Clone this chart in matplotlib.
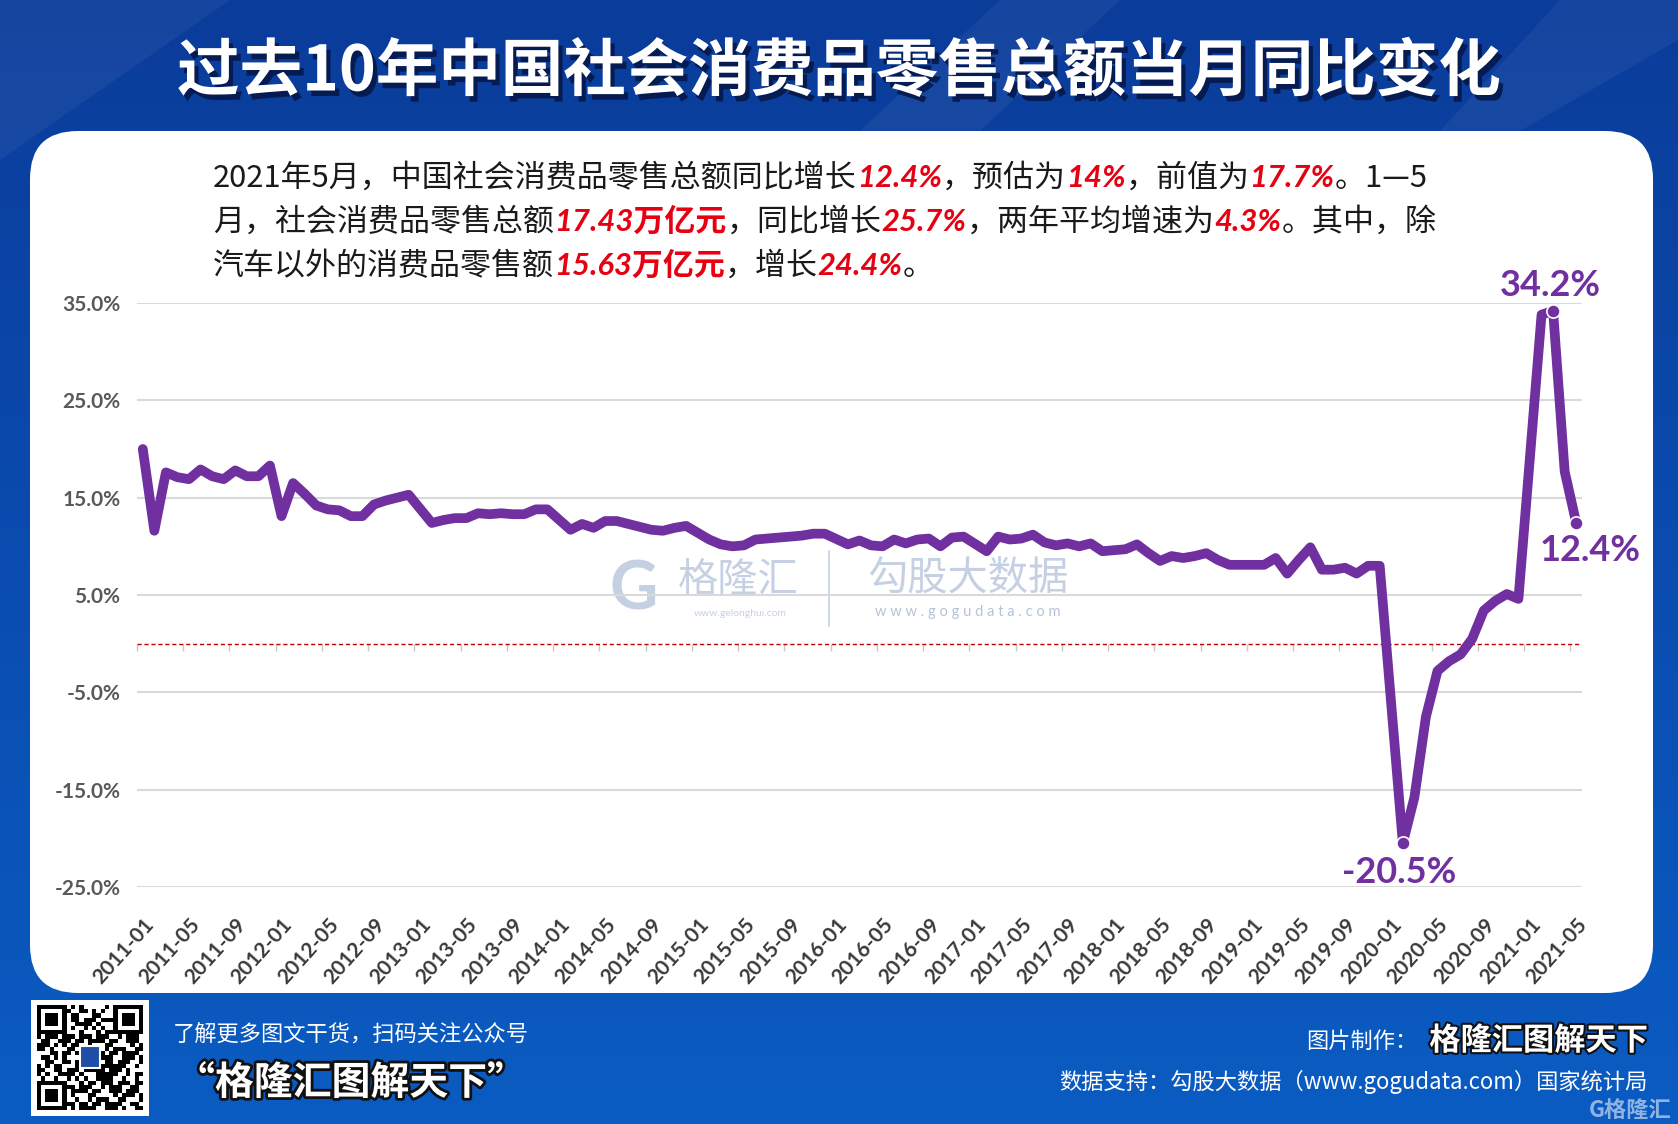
import numpy as np
import pandas as pd
import matplotlib
matplotlib.use("Agg")
import matplotlib.pyplot as plt
import matplotlib.patheffects as pe
from matplotlib.patches import FancyBboxPatch, Polygon, Rectangle

W, H, DPI = 1678, 1124, 100
CJK = ["Noto Sans CJK SC", "DejaVu Sans"]
NUM = ["Lato", "Noto Sans CJK SC", "DejaVu Sans"]
plt.rcParams["font.family"] = CJK

# monthly YoY growth of retail sales (%), 2011-01 .. 2021-05; None = no January print
y2011 = [20.0, 11.6, 17.6, 17.1, 16.9, 17.9, 17.2, 16.9, 17.8, 17.2, 17.2, 18.3]
y2012 = [13.1, 16.5, 15.4, 14.2, 13.8, 13.7, 13.1, 13.1, 14.3, 14.7, 15.0, 15.3]
y2013 = [None, 12.4, 12.7, 12.9, 12.9, 13.4, 13.3, 13.4, 13.3, 13.3, 13.8, 13.8]
y2014 = [None, 11.7, 12.3, 11.9, 12.6, 12.6, 12.3, 12.0, 11.7, 11.6, 11.9, 12.1]
y2015 = [None, 10.7, 10.2, 10.0, 10.1, 10.7, 10.8, 10.9, 11.0, 11.1, 11.3, 11.3]
y2016 = [None, 10.2, 10.6, 10.1, 10.0, 10.7, 10.3, 10.7, 10.8, 10.0, 10.9, 11.0]
y2017 = [None, 9.5, 11.0, 10.7, 10.8, 11.2, 10.4, 10.1, 10.3, 10.0, 10.3, 9.5]
y2018 = [None, 9.7, 10.2, 9.3, 8.5, 9.0, 8.8, 9.0, 9.3, 8.6, 8.1, 8.1]
y2019 = [None, 8.1, 8.8, 7.2, 8.6, 9.9, 7.6, 7.6, 7.8, 7.2, 8.0, 8.0]
y2020 = [None, -20.5, -15.8, -7.5, -2.8, -1.8, -1.1, 0.5, 3.4, 4.4, 5.1, 4.6]
y2021 = [None, 33.8, 34.2, 17.7, 12.4]

growth = (y2011 + y2012 + y2013 + y2014 + y2015 + y2016 + y2017
          + y2018 + y2019 + y2020 + y2021)
months = pd.date_range("2011-01-01", periods=len(growth), freq="MS")
month_labels = [d.strftime("%Y-%m") for d in months]

title = "过去10年中国社会消费品零售总额当月同比变化"
summary = [
    [("2021年5月，中国社会消费品零售总额同比增长", False), ("12.4%", True),
     ("，预估为", False), ("14%", True), ("，前值为", False), ("17.7%", True),
     ("。1—5", False)],
    [("月，社会消费品零售总额", False), ("17.43万亿元", True), ("，同比增长", False),
     ("25.7%", True), ("，两年平均增速为", False), ("4.3%", True), ("。其中，除", False)],
    [("汽车以外的消费品零售额", False), ("15.63万亿元", True), ("，增长", False),
     ("24.4%", True), ("。", False)],
]

PURPLE = "#7030a0"

fig = plt.figure(figsize=(W / DPI, H / DPI), dpi=DPI)

# ---- background, panel and decorations in pixel coordinates
bg = fig.add_axes([0, 0, 1, 1], zorder=-1)
bg.set_xlim(0, W)
bg.set_ylim(H, 0)
bg.axis("off")
grad = np.linspace(0, 1, 256)[:, None]
cmap = matplotlib.colors.LinearSegmentedColormap.from_list(
    "bgblue", ["#0a3c9a", "#0a4cb0", "#0a5cc2"])
bg.imshow(grad, extent=(0, W, H, 0), aspect="auto", cmap=cmap, zorder=0)
for pts in ([(0, 0), (230, 0), (0, 160)],
            [(1000, 0), (1120, 0), (980, 131), (860, 131)],
            [(1560, 0), (1678, 0), (1678, 40), (1520, 131), (1440, 131)]):
    bg.add_patch(Polygon(pts, closed=True, facecolor="white", alpha=0.05,
                         edgecolor="none"))
bg.add_patch(FancyBboxPatch((30, 131), 1623, 862,
                            boxstyle="round,pad=0,rounding_size=48",
                            facecolor="white", edgecolor="none"))

# watermark
wm = "#c5d1e3"
bg.text(634, 590, "G", fontsize=48, fontweight="bold", color=wm,
        ha="center", va="center", family=NUM)
bg.text(738, 580, "格隆汇", fontsize=29, color=wm, ha="center", va="center")
bg.text(740, 613, "www.gelonghui.com", fontsize=7.5, color=wm,
        ha="center", va="center", family=NUM)
bg.plot([829, 829], [551, 626], color=wm, lw=1.2)
bg.text(968, 578, "勾股大数据", fontsize=29, color=wm, ha="center", va="center")
bg.text(968, 612, "w w w . g o g u d a t a . c o m", fontsize=10.5,
        color="#b5c3d8", ha="center", va="center", family=NUM)

# QR-style badge
bg.add_patch(Rectangle((31, 1000), 118, 116, facecolor="white",
                       edgecolor="none", zorder=1))
bits = np.unpackbits(np.frombuffer(("格隆汇图解天下www.gogudata.com" * 8)
                                   .encode("utf-8"), dtype=np.uint8))
qr = bits[:25 * 25].reshape(25, 25).astype(float)
for r0, c0 in ((0, 0), (0, 18), (18, 0)):
    qr[r0:r0 + 7, c0:c0 + 7] = 1
    qr[r0 + 1:r0 + 6, c0 + 1:c0 + 6] = 0
    qr[r0 + 2:r0 + 5, c0 + 2:c0 + 5] = 1
bg.imshow(1 - qr, extent=(37, 143, 1110, 1005), cmap="gray",
          interpolation="nearest", aspect="auto", vmin=0, vmax=1, zorder=2)
bg.add_patch(Rectangle((80, 1046), 20, 22, facecolor="#1f4fa8",
                       edgecolor="white", lw=1.5, zorder=3))
bg.set_xlim(0, W)
bg.set_ylim(H, 0)

# ---- main chart
ax = fig.add_axes([137 / W, 1 - 887 / H, (1582 - 137) / W, (887 - 303) / H])
ax.set_facecolor("none")
x = np.arange(len(growth))
vals = np.array([np.nan if v is None else v for v in growth], dtype=float)
ok = ~np.isnan(vals)
ax.plot(x[ok], vals[ok], color=PURPLE, lw=7, solid_joinstyle="round",
        solid_capstyle="round", zorder=4)

ax.set_xlim(-0.5, len(growth) - 0.5)
ax.set_ylim(-25, 35)
ax.set_yticks(np.arange(-25, 36, 10))
ax.yaxis.set_major_formatter(matplotlib.ticker.FuncFormatter(
    lambda v, _: f"{v:.1f}%"))
ax.grid(axis="y", color="#d9d9d9", lw=1.5)
ax.set_axisbelow(True)
for s in ax.spines.values():
    s.set_visible(False)
ax.spines["bottom"].set_position(("data", 0))
ax.tick_params(axis="y", length=0, pad=12, labelsize=15, labelcolor="#595959")
for lab in ax.get_yticklabels():
    lab.set_fontweight("bold")
    lab.set_family(NUM)
ax.set_xticks(np.arange(0, len(growth), 4) - 0.5)
ax.tick_params(axis="x", length=5, width=1, color="#c8c8c8",
               labelbottom=False, direction="out")
ax.axhline(0, color="#c00000", lw=1.0, ls=(0, (3, 2)), zorder=3)

sec = ax.secondary_xaxis(0)
sec.spines["bottom"].set_visible(False)
sec.set_xticks(np.arange(0, len(growth), 4),
               labels=month_labels[::4])
sec.tick_params(length=0, pad=20, labelsize=15, labelcolor="#3a3a3a")
for lab in sec.get_xticklabels():
    lab.set_rotation(48)
    lab.set_ha("right")
    lab.set_va("top")
    lab.set_rotation_mode("anchor")
    lab.set_fontweight("bold")
    lab.set_family(NUM)

i_min = int(np.nanargmin(vals))
i_max = int(np.nanargmax(vals))
i_last = len(vals) - 1
ax.plot([i_min, i_max, i_last], vals[[i_min, i_max, i_last]], "o",
        ms=9.5, color=PURPLE, mec="white", mew=1.2, zorder=5)
lab_kw = dict(textcoords="offset points", fontsize=26, fontweight="bold",
              color=PURPLE, family=NUM, annotation_clip=False)
ax.annotate(f"{vals[i_max]:.1f}%", (i_max, vals[i_max]), xytext=(-2, 6),
            ha="center", va="bottom", **lab_kw)
ax.annotate(f"{vals[i_last]:.1f}%", (i_last, vals[i_last]), xytext=(10, -8),
            ha="center", va="top", **lab_kw)
ax.annotate(f"{vals[i_min]:.1f}%", (i_min, vals[i_min]), xytext=(-3, -9),
            ha="center", va="top", **lab_kw)

# ---- texts
fig.text(839 / W, 1 - 72 / H, title, fontsize=45, fontweight="bold",
         color="white", ha="center", va="center",
         path_effects=[pe.withSimplePatchShadow(offset=(3, -4),
                                                shadow_rgbFace="#06184a",
                                                alpha=0.9)])

renderer = fig.canvas.get_renderer()
for row, parts in enumerate(summary):
    px, py = 213, 187 + row * 44
    for text, red in parts:
        t = fig.text(px / W, 1 - py / H, text, fontsize=22.3,
                     color="#e60012" if red else "#1a1a1a",
                     fontweight="bold" if red else "normal",
                     style="italic" if red else "normal",
                     family=NUM if red else CJK, ha="left", va="baseline")
        px += t.get_window_extent(renderer).width

fig.text(173 / W, 1 - 1034 / H, "了解更多图文干货，扫码关注公众号", fontsize=16,
         color="white", ha="left", va="center")
fig.text(176 / W, 1 - 1083 / H, "“格隆汇图解天下”", fontsize=28,
         fontweight="bold", color="white", ha="left", va="center",
         path_effects=[pe.withStroke(linewidth=4, foreground="#111111")])
fig.text(1306 / W, 1 - 1041 / H, "图片制作：", fontsize=16, color="white",
         ha="left", va="center")
fig.text(1648 / W, 1 - 1041 / H, "格隆汇图解天下", fontsize=22.5,
         fontweight="bold", color="white", ha="right", va="center",
         path_effects=[pe.withStroke(linewidth=3, foreground="#111111")])
fig.text(1648 / W, 1 - 1082 / H,
         "数据支持：勾股大数据（www.gogudata.com）国家统计局", fontsize=16,
         color="white", ha="right", va="center")
fig.text(1672 / W, 1 - 1110 / H, "G格隆汇", fontsize=16, fontweight="bold",
         color="white", alpha=0.55, ha="right", va="center")

fig.savefig("out.png", dpi=DPI)
